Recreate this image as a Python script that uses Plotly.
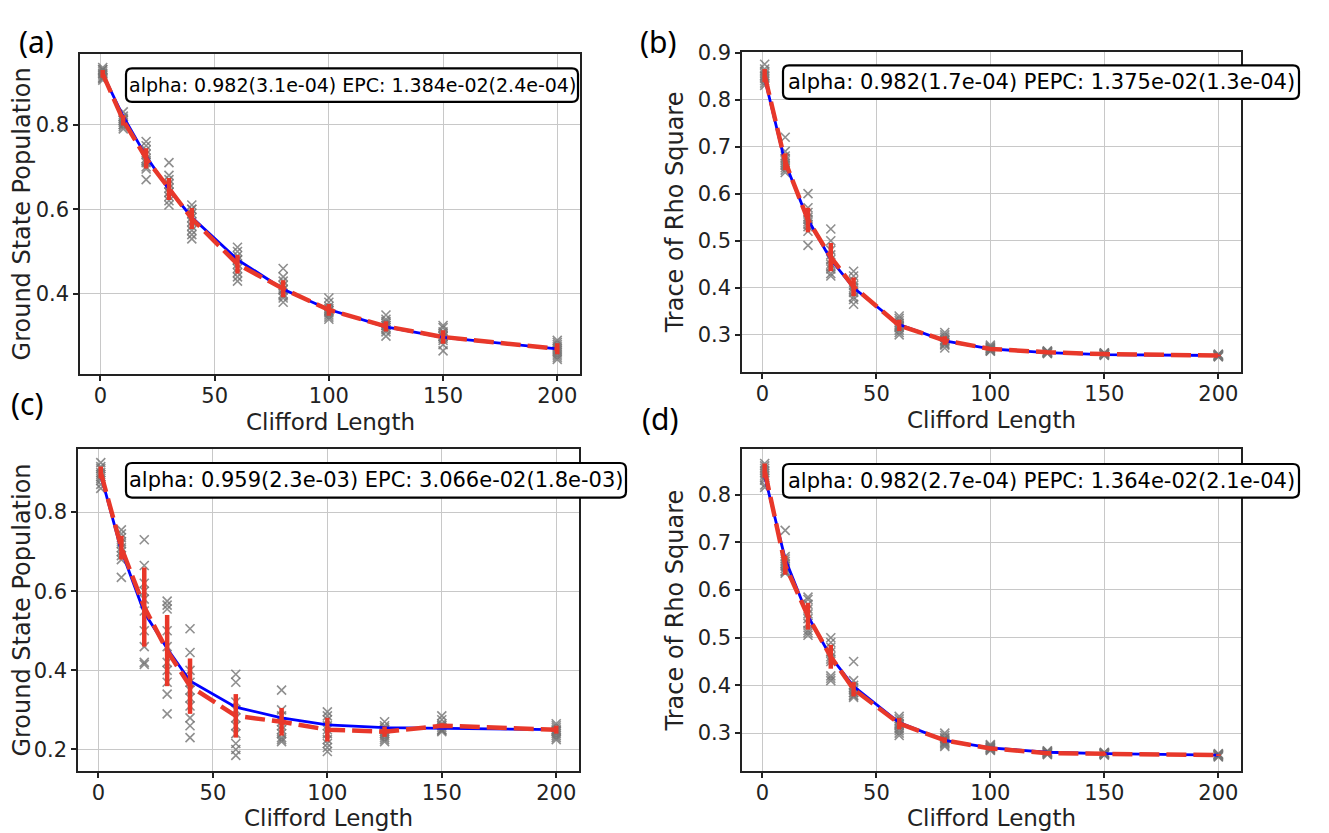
import plotly.graph_objects as go

# randomized benchmarking: 4 panels, clifford lengths on x
lengths = [1, 10, 20, 30, 40, 60, 80, 100, 125, 150, 200]

# (a) ground state population
a_samples = [
    [0.935, 0.93, 0.925, 0.92, 0.915, 0.91, 0.905, 0.92, 0.93, 0.91],
    [0.83, 0.82, 0.81, 0.80, 0.795, 0.79, 0.805, 0.815, 0.80, 0.81],
    [0.76, 0.75, 0.74, 0.72, 0.71, 0.70, 0.695, 0.67, 0.73, 0.715],
    [0.71, 0.68, 0.67, 0.66, 0.65, 0.64, 0.63, 0.62, 0.61, 0.64],
    [0.61, 0.60, 0.59, 0.58, 0.57, 0.56, 0.55, 0.54, 0.53, 0.60],
    [0.51, 0.50, 0.49, 0.48, 0.47, 0.46, 0.45, 0.44, 0.43, 0.48],
    [0.46, 0.44, 0.43, 0.42, 0.41, 0.40, 0.395, 0.39, 0.38, 0.41],
    [0.39, 0.38, 0.37, 0.365, 0.36, 0.355, 0.35, 0.345, 0.34, 0.36],
    [0.35, 0.34, 0.335, 0.33, 0.325, 0.32, 0.315, 0.31, 0.30, 0.325],
    [0.325, 0.32, 0.31, 0.305, 0.30, 0.295, 0.29, 0.28, 0.265, 0.30],
    [0.29, 0.285, 0.28, 0.275, 0.27, 0.265, 0.26, 0.255, 0.25, 0.245],
]
a_mean = [0.92, 0.81, 0.72, 0.648, 0.578, 0.47, 0.412, 0.362, 0.323, 0.298, 0.27]
a_std = [0.009, 0.012, 0.024, 0.026, 0.025, 0.022, 0.02, 0.014, 0.012, 0.016, 0.013]
a_fit = [0.920, 0.819, 0.725, 0.646, 0.581, 0.481, 0.411, 0.363, 0.322, 0.297, 0.270]

# (b) trace of rho square
b_samples = [
    [0.875, 0.865, 0.855, 0.85, 0.845, 0.84, 0.835, 0.83, 0.85, 0.86],
    [0.72, 0.69, 0.68, 0.675, 0.67, 0.665, 0.66, 0.655, 0.65, 0.645],
    [0.60, 0.57, 0.56, 0.55, 0.545, 0.54, 0.535, 0.53, 0.52, 0.49],
    [0.525, 0.50, 0.48, 0.47, 0.46, 0.45, 0.445, 0.44, 0.43, 0.425],
    [0.435, 0.425, 0.415, 0.405, 0.40, 0.395, 0.39, 0.38, 0.375, 0.365],
    [0.34, 0.335, 0.33, 0.325, 0.32, 0.318, 0.315, 0.31, 0.305, 0.30],
    [0.305, 0.30, 0.295, 0.29, 0.288, 0.285, 0.282, 0.28, 0.278, 0.272],
    [0.278, 0.275, 0.272, 0.27, 0.268, 0.267, 0.266, 0.265, 0.27, 0.273],
    [0.266, 0.265, 0.264, 0.263, 0.262, 0.261, 0.26, 0.262, 0.263, 0.264],
    [0.262, 0.261, 0.26, 0.259, 0.258, 0.257, 0.256, 0.258, 0.259, 0.26],
    [0.259, 0.258, 0.257, 0.256, 0.255, 0.254, 0.253, 0.256, 0.257, 0.255],
]
b_mean = [0.851, 0.668, 0.544, 0.465, 0.402, 0.32, 0.288, 0.27, 0.263, 0.259, 0.256]
b_std = [0.014, 0.018, 0.026, 0.03, 0.02, 0.012, 0.009, 0.004, 0.002, 0.002, 0.002]
b_fit = [0.845, 0.665, 0.545, 0.460, 0.400, 0.322, 0.287, 0.270, 0.262, 0.258, 0.256]

# (c) ground state population, noisier run
c_samples = [
    [0.925, 0.915, 0.91, 0.90, 0.895, 0.89, 0.885, 0.88, 0.87, 0.86],
    [0.755, 0.745, 0.735, 0.725, 0.72, 0.71, 0.70, 0.69, 0.68, 0.635],
    [0.73, 0.665, 0.62, 0.60, 0.58, 0.55, 0.50, 0.46, 0.42, 0.415],
    [0.575, 0.565, 0.555, 0.50, 0.46, 0.42, 0.40, 0.37, 0.34, 0.29],
    [0.505, 0.445, 0.40, 0.37, 0.35, 0.33, 0.31, 0.28, 0.26, 0.23],
    [0.39, 0.37, 0.32, 0.30, 0.28, 0.26, 0.24, 0.215, 0.20, 0.185],
    [0.35, 0.30, 0.285, 0.27, 0.26, 0.25, 0.24, 0.23, 0.225, 0.22],
    [0.295, 0.285, 0.275, 0.26, 0.25, 0.24, 0.225, 0.215, 0.205, 0.195],
    [0.27, 0.26, 0.255, 0.25, 0.245, 0.24, 0.235, 0.23, 0.225, 0.22],
    [0.285, 0.275, 0.265, 0.26, 0.255, 0.25, 0.248, 0.245, 0.25, 0.26],
    [0.265, 0.26, 0.255, 0.25, 0.248, 0.245, 0.24, 0.235, 0.23, 0.225],
]
c_mean = [0.90, 0.71, 0.56, 0.45, 0.36, 0.285, 0.27, 0.25, 0.245, 0.26, 0.25]
c_std = [0.015, 0.03, 0.10, 0.09, 0.07, 0.055, 0.035, 0.03, 0.013, 0.006, 0.01]
c_fit = [0.894, 0.703, 0.546, 0.455, 0.373, 0.307, 0.28, 0.262, 0.255, 0.253, 0.25]

# (d) trace of rho square, second run
d_samples = [
    [0.865, 0.86, 0.855, 0.85, 0.845, 0.84, 0.835, 0.83, 0.82, 0.815],
    [0.725, 0.67, 0.665, 0.66, 0.655, 0.65, 0.645, 0.64, 0.638, 0.635],
    [0.585, 0.58, 0.57, 0.56, 0.55, 0.54, 0.53, 0.515, 0.51, 0.505],
    [0.50, 0.49, 0.48, 0.47, 0.46, 0.455, 0.45, 0.42, 0.415, 0.41],
    [0.45, 0.41, 0.40, 0.395, 0.39, 0.385, 0.38, 0.378, 0.375, 0.385],
    [0.335, 0.33, 0.325, 0.32, 0.318, 0.315, 0.31, 0.305, 0.30, 0.295],
    [0.30, 0.295, 0.29, 0.288, 0.285, 0.282, 0.28, 0.278, 0.275, 0.272],
    [0.276, 0.274, 0.272, 0.27, 0.268, 0.266, 0.265, 0.264, 0.27, 0.268],
    [0.263, 0.262, 0.261, 0.26, 0.259, 0.258, 0.257, 0.256, 0.255, 0.26],
    [0.26, 0.259, 0.258, 0.257, 0.256, 0.255, 0.254, 0.256, 0.257, 0.258],
    [0.257, 0.256, 0.255, 0.254, 0.253, 0.252, 0.251, 0.25, 0.254, 0.255],
]
d_mean = [0.85, 0.652, 0.545, 0.46, 0.392, 0.32, 0.285, 0.268, 0.258, 0.256, 0.254]
d_std = [0.015, 0.02, 0.028, 0.025, 0.015, 0.012, 0.006, 0.004, 0.002, 0.002, 0.002]
d_fit = [0.838, 0.665, 0.545, 0.46, 0.398, 0.322, 0.285, 0.269, 0.26, 0.257, 0.254]

# page body has an 8px margin, so the figure is shrunk to fit the window
OFF = 8
W, H = 1329 - OFF, 833 - OFF
RED = "rgb(232,56,42)"
FONT = "DejaVu Sans"

panels = [
    dict(label="(a)", lab_xy=(36, 8), lab_anchor="top", s=a_samples, m=a_mean, e=a_std, f=a_fit,
         ytitle="Ground State Population",
         text="alpha: 0.982(3.1e-04) EPC: 1.384e-02(2.4e-04)",
         box=(126, 58, 578, 92), fs=19,
         xd=(80, 580), yd=(43, 368), yr=[0.21, 0.968], dt=0.2),
    dict(label="(b)", lab_xy=(658, 8), lab_anchor="top", s=b_samples, m=b_mean, e=b_std, f=b_fit,
         ytitle="Trace of Rho Square",
         text="alpha: 0.982(1.7e-04) PEPC: 1.375e-02(1.3e-04)",
         box=(783, 55, 1299, 89), fs=21,
         xd=(742, 1241), yd=(41, 366), yr=[0.2205, 0.902], dt=0.1),
    dict(label="(c)", lab_xy=(27, 398), lab_anchor="middle", s=c_samples, m=c_mean, e=c_std, f=c_fit,
         ytitle="Ground State Population",
         text="alpha: 0.959(2.3e-03) EPC: 3.066e-02(1.8e-03)",
         box=(126, 458, 626, 493), fs=21,
         xd=(78, 579), yd=(444, 770), yr=[0.146, 0.959], dt=0.2),
    dict(label="(d)", lab_xy=(660, 413), lab_anchor="middle", s=d_samples, m=d_mean, e=d_std, f=d_fit,
         ytitle="Trace of Rho Square",
         text="alpha: 0.982(2.7e-04) PEPC: 1.364e-02(2.1e-04)",
         box=(783, 459, 1299, 493), fs=21,
         xd=(742, 1241), yd=(444, 770), yr=[0.221, 0.895], dt=0.1),
]


def px(x):
    return (x - OFF) / W


def py(y):
    return 1 - (y - OFF) / H


def rounded_box(x0, y0, x1, y1, r=6):
    # path in paper coords, corners rounded by r pixels
    pts = [
        f"M {px(x0 + r)},{py(y0)}",
        f"L {px(x1 - r)},{py(y0)}",
        f"Q {px(x1)},{py(y0)} {px(x1)},{py(y0 + r)}",
        f"L {px(x1)},{py(y1 - r)}",
        f"Q {px(x1)},{py(y1)} {px(x1 - r)},{py(y1)}",
        f"L {px(x0 + r)},{py(y1)}",
        f"Q {px(x0)},{py(y1)} {px(x0)},{py(y1 - r)}",
        f"L {px(x0)},{py(y0 + r)}",
        f"Q {px(x0)},{py(y0)} {px(x0 + r)},{py(y0)}",
        "Z",
    ]
    return " ".join(pts)


fig = go.Figure()
layout = dict(width=W, height=H, margin=dict(l=0, r=0, t=0, b=0),
              paper_bgcolor="white", plot_bgcolor="white", showlegend=False,
              font=dict(family=FONT, color="#222"))
shapes = []
annotations = []

for i, p in enumerate(panels, start=1):
    xa = "x" if i == 1 else f"x{i}"
    ya = "y" if i == 1 else f"y{i}"

    xs, ys = [], []
    for L, vals in zip(lengths, p["s"]):
        xs += [L] * len(vals)
        ys += vals
    fig.add_trace(go.Scatter(
        x=xs, y=ys, mode="markers", xaxis=xa, yaxis=ya,
        marker=dict(symbol="x-thin", size=9,
                    line=dict(width=1.6, color="rgba(115,115,115,0.8)"))))
    fig.add_trace(go.Scatter(
        x=lengths, y=p["f"], mode="lines", xaxis=xa, yaxis=ya,
        line=dict(color="#0000ff", width=2.8)))
    fig.add_trace(go.Scatter(
        x=lengths, y=p["m"], mode="lines", xaxis=xa, yaxis=ya,
        line=dict(color=RED, width=4.5, dash="20px,7px"),
        error_y=dict(type="data", array=p["e"], visible=True,
                     color=RED, thickness=4.5, width=0)))

    common = dict(showline=True, linecolor="#222", linewidth=1.5, mirror=True,
                  ticks="outside", ticklen=5, tickwidth=1.5, tickcolor="#222",
                  showgrid=True, gridcolor="#c8c8c8", gridwidth=1,
                  zeroline=False,
                  tickfont=dict(family=FONT, size=21, color="#222"))
    layout["xaxis" if i == 1 else f"xaxis{i}"] = dict(
        common, domain=[px(p["xd"][0]), px(p["xd"][1])], anchor=ya,
        range=[-8.95, 209.95], tickvals=[0, 50, 100, 150, 200],
        ticklabelstandoff=-3)
    layout["yaxis" if i == 1 else f"yaxis{i}"] = dict(
        common, domain=[py(p["yd"][1]), py(p["yd"][0])], anchor=xa,
        range=p["yr"], dtick=p["dt"], tick0=0, tickformat=".1f",
        title=dict(text=p["ytitle"], standoff=7,
                   font=dict(family=FONT, size=24, color="#222")))

    # x axis title placed under the tick labels
    annotations.append(dict(xref="paper", yref="paper",
                            x=px((p["xd"][0] + p["xd"][1]) / 2), y=py(p["yd"][1] + 33),
                            xanchor="center", yanchor="top", showarrow=False,
                            text="Clifford Length",
                            font=dict(family=FONT, size=23, color="#222")))

    x0, y0, x1, y1 = p["box"]
    shapes.append(dict(type="path", xref="paper", yref="paper",
                       path=rounded_box(x0, y0, x1, y1),
                       line=dict(color="black", width=2.2), fillcolor="white",
                       layer="above"))
    annotations.append(dict(xref="paper", yref="paper",
                            x=px((x0 + x1) / 2), y=py((y0 + y1) / 2),
                            xanchor="center", yanchor="middle", showarrow=False,
                            text=p["text"],
                            font=dict(family=FONT, size=p["fs"], color="black")))
    lx, ly = p["lab_xy"]
    annotations.append(dict(xref="paper", yref="paper", x=px(lx), y=py(ly),
                            xanchor="center", yanchor=p["lab_anchor"], showarrow=False,
                            text=p["label"],
                            font=dict(family="Noto Sans", size=30, color="black")))

layout["shapes"] = shapes
layout["annotations"] = annotations
fig.update_layout(**layout)
fig.write_html("out.html")
